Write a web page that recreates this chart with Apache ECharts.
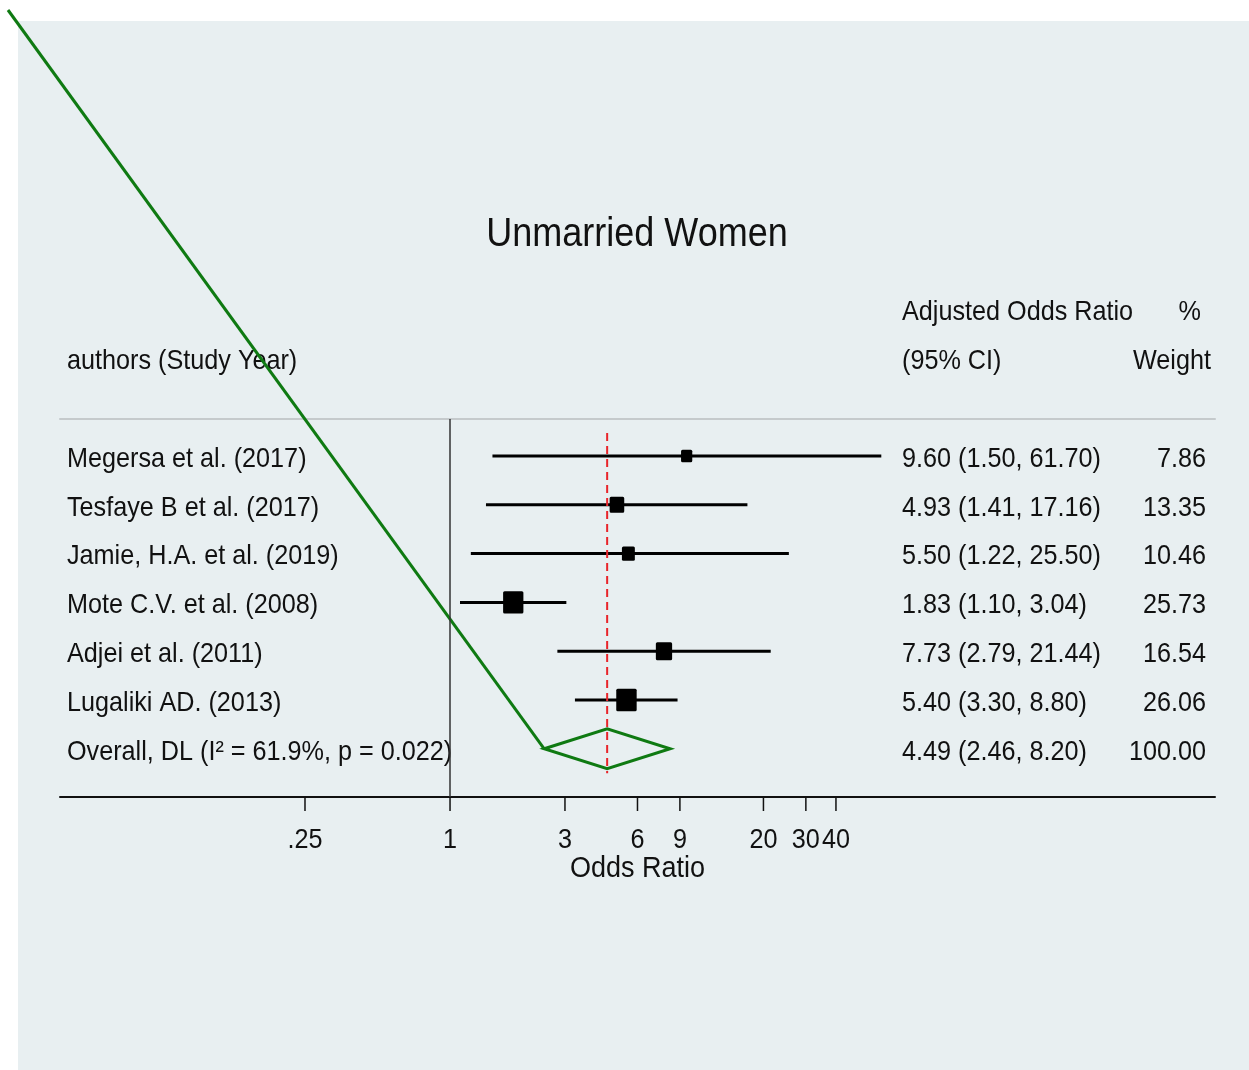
<!DOCTYPE html>
<html>
<head>
<meta charset="utf-8">
<title>Unmarried Women</title>
<script src="https://cdn.jsdelivr.net/npm/echarts@6/dist/echarts.min.js"></script>
<style>
  html, body { margin: 0; padding: 0; background: #ffffff; }
  #chart { width: 1249px; height: 1070px; }
</style>
</head>
<body>
<div id="chart"></div>
<script>
// ---- study data ----
const studies = [
  'Megersa et al. (2017)',
  'Tesfaye B et al. (2017)',
  'Jamie, H.A. et al. (2019)',
  'Mote C.V. et al. (2008)',
  'Adjei et al. (2011)',
  'Lugaliki AD. (2013)'
];
const oddsRatio = [9.60, 4.93, 5.50, 1.83, 7.73, 5.40];
const ciLower   = [1.50, 1.41, 1.22, 1.10, 2.79, 3.30];
const ciUpper   = [61.70, 17.16, 25.50, 3.04, 21.44, 8.80];
const weights   = [7.86, 13.35, 10.46, 25.73, 16.54, 26.06];

// ---- pooled estimate ----
const overallLabel  = 'Overall, DL (I\u00B2 = 61.9%, p = 0.022)';
const overallOR     = 4.49;
const overallLower  = 2.46;
const overallUpper  = 8.20;
const overallWeight = 100.00;

// ---- axis ticks ----
const tickValues = [0.25, 1, 3, 6, 9, 20, 30, 40];
const tickLabels = ['.25', '1', '3', '6', '9', '20', '30', '40'];

// ---- headings ----
const titleText   = 'Unmarried Women';
const axisTitle   = 'Odds Ratio';
const headStudy   = 'authors (Study Year)';
const headEst1    = 'Adjusted Odds Ratio';
const headEst2    = '(95% CI)';
const headWeight1 = '%';
const headWeight2 = 'Weight';

// ---- layout & style ----
const FONT = '"Liberation Sans", Arial, Helvetica, sans-serif';
const TXT = '#111111';
const SQUEEZE = 0.9;          // horizontally condensed lettering
const COL_STUDY = 67;         // left edge of study column
const COL_EST = 902;          // left edge of estimate column
const COL_WEIGHT = 1206;      // right edge of weight column
const TEXT_DY = 3;            // optical centring of text on a row
const GREEN = '#0f7a12';
const overallRow = studies.length;

function label(x, y, text, size, align) {
  return {
    type: 'text', x: x, y: y, scaleX: SQUEEZE, originX: 0, originY: 0,
    style: {
      text: text, fill: TXT, fontSize: size, fontFamily: FONT,
      align: align || 'left', verticalAlign: 'middle'
    },
    silent: true
  };
}

const chart = echarts.init(document.getElementById('chart'), null, { renderer: 'canvas' });

const rowIdx = studies.map((_, i) => i);

const option = {
  animation: false,
  backgroundColor: '#ffffff',
  graphic: [
    { type: 'rect', z: -10, silent: true,
      shape: { x: 18, y: 21, width: 1231, height: 1049 },
      style: { fill: '#e8eff1' } },
    { type: 'text', x: 637, y: 235, scaleX: SQUEEZE, silent: true,
      style: { text: titleText, fill: TXT, fontSize: 40, fontFamily: FONT,
               align: 'center', verticalAlign: 'middle' } }
  ],
  grid: { left: 60, right: 34, top: 419, bottom: 273, containLabel: false },
  xAxis: [
    {
      type: 'log', logBase: 10, min: 0.02404, max: 1498, position: 'bottom',
      axisLine: { show: true, onZero: false, lineStyle: { color: '#111111', width: 2 } },
      axisTick: { show: false }, axisLabel: { show: false }, splitLine: { show: false }
    },
    {
      type: 'log', logBase: 10, min: 0.02404, max: 1498, position: 'top',
      axisLine: { show: true, onZero: false, lineStyle: { color: '#c5cacc', width: 2 } },
      axisTick: { show: false }, axisLabel: { show: false }, splitLine: { show: false }
    }
  ],
  yAxis: {
    type: 'value', inverse: true, min: -0.758, max: 6.988, show: false
  },
  series: [
    // line of no effect
    {
      type: 'line', data: [], silent: true,
      markLine: {
        silent: true, symbol: 'none', label: { show: false },
        lineStyle: { color: '#333333', width: 1.5, type: 'solid' },
        data: [{ xAxis: 1 }]
      }
    },
    // confidence intervals and weighted boxes
    {
      type: 'custom', silent: true, z: 3,
      data: rowIdx.map(i => [oddsRatio[i], ciLower[i], ciUpper[i], weights[i], i]),
      encode: { x: [0, 1, 2], y: 4 },
      renderItem(params, api) {
        const r = api.value(4);
        const p = api.coord([api.value(0), r]);
        const lo = api.coord([api.value(1), r]);
        const hi = api.coord([api.value(2), r]);
        const s = Math.sqrt(api.value(3));
        const bw = 4.0 * s, bh = 4.4 * s;
        return {
          type: 'group',
          children: [
            { type: 'line', shape: { x1: lo[0], y1: lo[1], x2: hi[0], y2: hi[1] },
              style: { stroke: '#000000', lineWidth: 3 } },
            { type: 'rect', shape: { x: p[0] - bw / 2, y: p[1] - bh / 2, width: bw, height: bh, r: 1.5 },
              style: { fill: '#000000' } }
          ]
        };
      }
    },
    // pooled diamond plus its leader line
    {
      type: 'custom', silent: true, clip: false, z: 4,
      data: [[overallOR, overallLower, overallUpper, overallRow]],
      encode: { x: [0, 1, 2], y: 3 },
      renderItem(params, api) {
        const r = api.value(3);
        const half = 0.41;
        const left = api.coord([api.value(1), r]);
        const right = api.coord([api.value(2), r]);
        const top = api.coord([api.value(0), r - half]);
        const bottom = api.coord([api.value(0), r + half]);
        return {
          type: 'group',
          children: [
            { type: 'polyline', shape: { points: [[8, 10], left] },
              style: { stroke: GREEN, lineWidth: 3, fill: null } },
            { type: 'polygon', shape: { points: [left, top, right, bottom] },
              style: { stroke: GREEN, lineWidth: 3, fill: null, lineJoin: 'miter' } }
          ]
        };
      }
    },
    // pooled estimate reference line
    {
      type: 'custom', silent: true, z: 5,
      data: [[overallOR, overallRow]],
      encode: { x: 0, y: 1 },
      renderItem(params, api) {
        const a = api.coord([api.value(0), -0.47]);
        const b = api.coord([api.value(0), api.value(1) + 0.5]);
        return { type: 'line', shape: { x1: a[0], y1: a[1], x2: b[0], y2: b[1] },
                 style: { stroke: '#e8242a', lineWidth: 2, lineDash: [8, 5] } };
      }
    },
    // axis ticks and tick labels
    {
      type: 'custom', silent: true, clip: false,
      data: tickValues.map((v, i) => [v, i]),
      encode: { x: 0 },
      renderItem(params, api) {
        const cs = params.coordSys;
        const base = cs.y + cs.height;
        const x = api.coord([api.value(0), 0])[0];
        const idx = api.value(1);
        return {
          type: 'group',
          children: [
            { type: 'line', shape: { x1: x, y1: base, x2: x, y2: base + 14 },
              style: { stroke: '#111111', lineWidth: 1.5 } },
            label(x, base + 43, tickLabels[idx], 28, 'center')
          ]
        };
      }
    },
    // text columns
    {
      type: 'custom', silent: true, clip: false,
      data: rowIdx.concat([overallRow]).map(i => [1, i]),
      encode: { x: 0, y: 1 },
      renderItem(params, api) {
        const i = api.value(1);
        const y = api.coord([1, i])[1] + TEXT_DY;
        let name, est, wt;
        if (i < studies.length) {
          name = studies[i];
          est = oddsRatio[i].toFixed(2) + ' (' + ciLower[i].toFixed(2) + ', ' + ciUpper[i].toFixed(2) + ')';
          wt = weights[i].toFixed(2);
        } else {
          name = overallLabel;
          est = overallOR.toFixed(2) + ' (' + overallLower.toFixed(2) + ', ' + overallUpper.toFixed(2) + ')';
          wt = overallWeight.toFixed(2);
        }
        const children = [
          label(COL_STUDY, y, name, 28, 'left'),
          label(COL_EST, y, est, 28, 'left'),
          label(COL_WEIGHT, y, wt, 28, 'right')
        ];
        if (i === 0) {
          const cs = params.coordSys;
          const y1 = api.coord([1, -3])[1] + TEXT_DY;
          const y2 = api.coord([1, -2])[1] + TEXT_DY;
          children.push(
            label(COL_EST, y1, headEst1, 28, 'left'),
            label(COL_WEIGHT - 5, y1, headWeight1, 28, 'right'),
            label(COL_STUDY, y2, headStudy, 28, 'left'),
            label(COL_EST, y2, headEst2, 28, 'left'),
            label(COL_WEIGHT + 5, y2, headWeight2, 28, 'right'),
            label(cs.x + cs.width / 2, cs.y + cs.height + 72, axisTitle, 30, 'center')
          );
        }
        return { type: 'group', children: children };
      }
    }
  ]
};

chart.setOption(option);
</script>
</body>
</html>
